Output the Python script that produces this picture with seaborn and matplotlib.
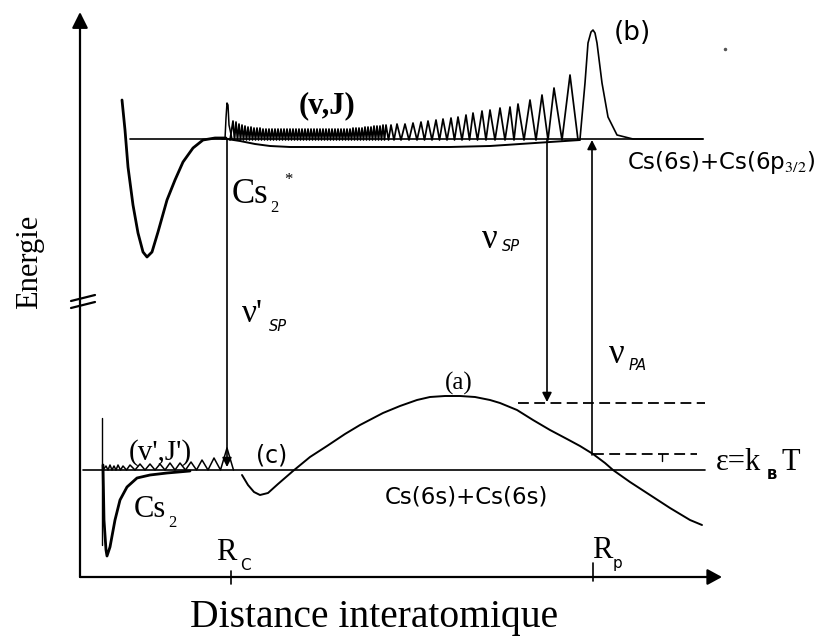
import matplotlib
matplotlib.use("Agg")
import matplotlib.pyplot as plt
import seaborn as sns
import numpy as np

# ---------------- data (read from the schematic, pixel-like units) ----------------
# upper (excited) potential well Cs2*
upper_well_x = [122, 125, 128, 133, 138, 143, 147, 152, 158, 167, 175, 183, 193, 203, 215, 226]
upper_well_y = [100, 130, 167, 205, 233, 252, 257, 252, 232, 200, 180, 162, 148, 140, 138, 138]
upper_asym_x = [130, 703]
upper_asym_y = [139, 139]
# excited potential continuing below the asymptote
upper_tail_x = [227, 240, 255, 270, 290, 330, 400, 450, 490, 520, 550, 580]
upper_tail_y = [139, 141, 144, 146, 147, 147, 147, 147, 146, 144, 142, 140]
# narrow spike at Rc
spike_x = [222, 225, 226, 227, 228, 229, 232]
spike_y = [139, 139, 118, 103, 105, 125, 139]
# (v,J) bound-state oscillation peaks
vj_peak_x = [233, 236, 239, 242, 245, 248, 251, 254, 257, 260, 263, 266, 269, 272, 275, 278,
             281, 284, 287, 290, 293, 296, 299, 302, 305, 308, 311, 314, 317, 320, 323, 326,
             329, 332, 335, 338, 341, 344, 347, 350, 353, 356, 359, 362, 365, 368, 371, 374,
             377, 380, 383, 386,
             391, 397, 405, 413, 421, 428, 436, 443, 451, 458, 466, 473, 482, 490, 500, 510,
             518, 530, 542, 554, 570]
vj_peak_y = [121, 122, 124, 125, 126, 127, 127, 128, 128, 128, 129, 129, 129, 129, 129, 129,
             129, 129, 129, 129, 129, 129, 129, 129, 129, 129, 129, 129, 129, 129, 129, 129,
             129, 129, 129, 129, 129, 129, 129, 129, 128, 128, 128, 128, 127, 127, 127, 126,
             126, 126, 125, 125,
             125, 124, 124, 123, 122, 121, 120, 119, 118, 117, 115, 113, 111, 110, 108, 107,
             104, 100, 95, 88, 75]
vj_base = 140
# the big last peak (b)
peak_b_x = [580, 585, 588, 591, 593, 595, 597, 602, 608, 617, 633, 703]
peak_b_y = [139, 83, 43, 32, 30, 33, 43, 83, 117, 135, 139, 139]

# lower (ground) potential Cs2
lower_wall_x = [102, 102]
lower_wall_y = [418, 545]
lower_well_x = [103, 104, 106, 107, 110, 115, 120, 127, 137, 150, 167, 190]
lower_well_y = [465, 520, 550, 556, 547, 520, 500, 487, 478, 475, 473, 471]
lower_asym_x = [83, 705]
lower_asym_y = [470, 470]
# (v',J') wiggles
vjp_peak_x = [106, 110, 114, 118, 123, 130, 140, 150, 160, 170, 180, 191, 202, 214, 227]
vjp_peak_y = [466, 465, 466, 465, 466, 465, 464, 464, 464, 463, 463, 462, 460, 458, 448]
vjp_base = 470
# (c) well + (a) barrier + tail
barrier_x = [242, 248, 254, 260, 268, 278, 293, 310, 327, 345, 360, 383, 400, 417, 430, 445,
             460, 475, 490, 500, 517, 533, 550, 567, 580, 593, 605, 613, 630, 650, 670, 690, 702]
barrier_y = [475, 485, 492, 495, 493, 484, 471, 457, 446, 434, 425, 413, 406, 400, 397, 396,
             396, 397, 400, 403, 410, 420, 430, 439, 446, 454, 463, 470, 482, 495, 508, 520, 525]

# dashed energy levels
dash_x = [[518, 705], [593, 697]]
dash_y = [[403, 403], [454, 454]]
dash_tick_x = [662, 662]
dash_tick_y = [454, 461]

# vertical transition arrows: x, start y, end y
arrow_x = [227, 547, 592]
arrow_y0 = [139, 139, 455]
arrow_y1 = [467, 402, 140]

# axes
axis_origin = (80, 577)
axis_xend = 722
axis_ytop = 12
tick_x = [231, 593]
tick_y0 = [571, 563]
tick_y1 = [584, 581]
break_x = [[71, 95], [71, 95]]
break_y = [[301, 295], [308, 302]]

# ---------------- figure ----------------
sns.set_theme(style="white")
plt.rcParams["font.family"] = ["Liberation Serif", "DejaVu Serif"]
plt.rcParams["mathtext.fontset"] = "stix"

fig = plt.figure(figsize=(8.17, 6.36), dpi=100)
ax = fig.add_axes([0, 0, 1, 1])
ax.set_xlim(0, 817)
ax.set_ylim(636, 0)
ax.axis("off")

K = "black"


def line(x, y, lw=1.6, **kw):
    sns.lineplot(x=x, y=y, ax=ax, color=K, lw=lw, sort=False, estimator=None,
                 legend=False, solid_joinstyle="round", **kw)


def osc(peaks_x, peaks_y, base, x_start):
    xs, ys = [x_start], [base]
    for i, (px, py) in enumerate(zip(peaks_x, peaks_y)):
        xs.append(px)
        ys.append(py)
        nxt = peaks_x[i + 1] if i + 1 < len(peaks_x) else px + (px - peaks_x[i - 1])
        xs.append((px + nxt) / 2)
        ys.append(base)
    return xs, ys


# upper potential
line(upper_well_x, upper_well_y, lw=2.0)
line(upper_asym_x, upper_asym_y, lw=1.2)
line(upper_tail_x, upper_tail_y, lw=1.4)
line(spike_x, spike_y, lw=1.1)
ox, oy = osc(vj_peak_x, vj_peak_y, vj_base, 230)
line(ox, oy, lw=1.25)
line(peak_b_x, peak_b_y, lw=1.2)

# lower potential
line(lower_wall_x, lower_wall_y, lw=1.0)
line(lower_well_x, lower_well_y, lw=2.0)
line(lower_asym_x, lower_asym_y, lw=1.2)
wx, wy = osc(vjp_peak_x, vjp_peak_y, vjp_base, 103)
line(wx, wy, lw=1.1)
line(barrier_x, barrier_y, lw=1.4)

for dx, dy in zip(dash_x, dash_y):
    line(dx, dy, lw=1.3, linestyle=(0, (6, 3)))
line(dash_tick_x, dash_tick_y, lw=1.0)

# transition arrows
for x, y0, y1 in zip(arrow_x, arrow_y0, arrow_y1):
    ax.annotate("", xy=(x, y1), xytext=(x, y0),
                arrowprops=dict(arrowstyle="-|>,head_length=0.55,head_width=0.28",
                                color=K, lw=1.2, shrinkA=0, shrinkB=0, mutation_scale=10))

# axes with arrows
ax.annotate("", xy=(axis_xend, axis_origin[1]), xytext=axis_origin,
            arrowprops=dict(arrowstyle="-|>,head_length=0.55,head_width=0.3",
                            color=K, lw=1.6, shrinkA=0, shrinkB=0, mutation_scale=16))
ax.annotate("", xy=(axis_origin[0], axis_ytop), xytext=axis_origin,
            arrowprops=dict(arrowstyle="-|>,head_length=0.6,head_width=0.3",
                            color=K, lw=1.6, shrinkA=0, shrinkB=0, mutation_scale=16))
for x, y0, y1 in zip(tick_x, tick_y0, tick_y1):
    line([x, x], [y0, y1], lw=1.2)
for bx, by in zip(break_x, break_y):
    line(bx, by, lw=1.6)
ax.plot([725], [49], marker="o", ms=1.5, color="#555555")

# ---------------- texts ----------------
SERIF = ["Liberation Serif", "DejaVu Serif"]
SANS = ["DejaVu Sans"]


def t(x, y, s, size, fam=SERIF, ha="left", va="baseline", **kw):
    ax.text(x, y, s, fontsize=size, family=fam, ha=ha, va=va, color=K, **kw)


t(30, 262, "Energie", 22, ha="center", va="center", rotation=90)
t(374, 627, "Distance interatomique", 28.5, ha="center")
t(327, 106, "(v,J)", 22, ha="center", va="center", weight="bold")
t(632, 33, "(b)", 19, fam=SANS, ha="center", va="center")
t(627, 163, "Cs(6s)+Cs(6p$_{3/2}$)", 16.5, fam=SANS, va="center")
t(232, 203, "Cs", 25)
t(270, 212, "2", 12)
t(284, 184, "*", 12)
t(242, 322, "ν'", 24)
t(269, 331, "SP", 10.5, fam=SANS, style="italic")
t(482, 248, "ν", 25)
t(502, 251, "SP", 10.5, fam=SANS, style="italic")
t(609, 363, "ν", 25)
t(629, 370, "PA", 10.5, fam=SANS, style="italic")
t(459, 383, "(a)", 18, ha="center", va="center")
t(716, 470, "ε=k", 22)
t(767, 479, "B", 10, fam=SANS, weight="bold")
t(782, 470, "T", 22)
t(385, 497, "Cs(6s)+Cs(6s)", 16.5, fam=SANS, va="center")
t(160, 453, "(v',J')", 21, ha="center", va="center")
t(272, 455, "(c)", 17, fam=SANS, ha="center", va="center")
t(134, 517, "Cs", 22)
t(168, 527, "2", 12)
t(216, 560, "R", 22)
t(240, 570, "C", 11, fam=SANS)
t(592, 558, "R", 22)
t(613, 568, "p", 11, fam=SANS)

fig.savefig("out.png", dpi=100)
